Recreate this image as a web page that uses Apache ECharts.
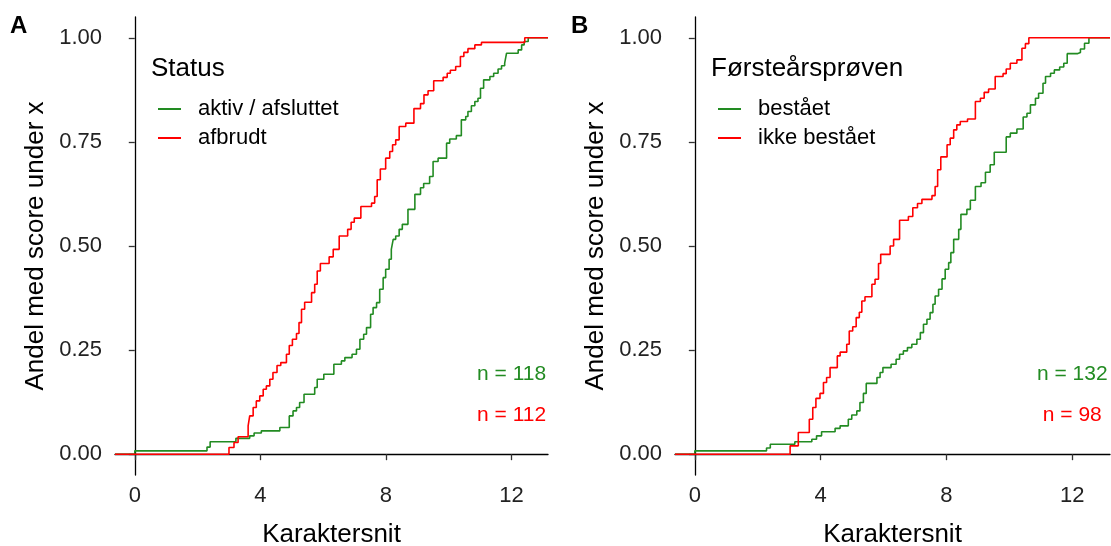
<!DOCTYPE html>
<html>
<head>
<meta charset="utf-8">
<script src="https://cdn.jsdelivr.net/npm/echarts@6/dist/echarts.min.js"></script>
<style>
  html, body { margin: 0; padding: 0; background: #fff; }
  #chart { width: 1111px; height: 546px; }
</style>
</head>
<body>
<div id="chart"></div>
<script>
// ---- panel A: Status (ECDF, step points) ----
var aktivX = [0, 2.30, 2.40, 3.22, 3.66, 3.80, 4.03, 4.62, 4.92, 5.04, 5.15, 5.25, 5.39, 5.73, 5.81, 6.02,
  6.34, 6.58, 6.69, 6.92, 7.06, 7.17, 7.29, 7.38, 7.51, 7.59, 7.70, 7.80, 7.91, 7.99, 8.10, 8.17,
  8.23, 8.31, 8.42, 8.52, 8.70, 8.92, 9.10, 9.20, 9.39, 9.50, 9.66, 9.93, 10.03, 10.24, 10.40, 10.54,
  10.61, 10.72, 10.83, 10.93, 11.01, 11.11, 11.31, 11.43, 11.57, 11.68, 11.78, 11.84, 12.21, 12.32, 12.40, 12.53];
var aktivY = [0.008, 0.017, 0.030, 0.038, 0.044, 0.051, 0.056, 0.064, 0.092, 0.104, 0.112, 0.124, 0.144, 0.160, 0.180, 0.192,
  0.216, 0.224, 0.232, 0.240, 0.252, 0.276, 0.288, 0.304, 0.336, 0.352, 0.364, 0.396, 0.424, 0.444, 0.468, 0.492,
  0.516, 0.524, 0.540, 0.552, 0.588, 0.624, 0.640, 0.650, 0.667, 0.703, 0.711, 0.747, 0.757, 0.765, 0.803, 0.811,
  0.823, 0.837, 0.847, 0.855, 0.879, 0.899, 0.907, 0.915, 0.925, 0.933, 0.939, 0.963, 0.971, 0.983, 0.991, 1.0];

var afbrudtX = [3.00, 3.16, 3.29, 3.61, 3.66, 3.77, 3.87, 3.98, 4.09, 4.19, 4.30, 4.40, 4.53, 4.65, 4.83, 4.92,
  5.02, 5.15, 5.23, 5.31, 5.41, 5.63, 5.73, 5.81, 5.91, 6.19, 6.32, 6.51, 6.78, 6.89, 6.99, 7.20,
  7.54, 7.64, 7.72, 7.82, 7.99, 8.12, 8.21, 8.31, 8.42, 8.63, 8.89, 9.10, 9.21, 9.34, 9.52, 9.82,
  9.95, 10.05, 10.22, 10.37, 10.48, 10.61, 10.83, 11.04, 12.42];
var afbrudtY = [0.016, 0.028, 0.042, 0.068, 0.092, 0.112, 0.128, 0.140, 0.156, 0.164, 0.180, 0.196, 0.213, 0.220, 0.240, 0.261,
  0.276, 0.290, 0.316, 0.348, 0.365, 0.388, 0.408, 0.440, 0.458, 0.474, 0.492, 0.524, 0.540, 0.557, 0.567, 0.595,
  0.603, 0.619, 0.659, 0.685, 0.711, 0.727, 0.743, 0.755, 0.787, 0.795, 0.830, 0.842, 0.863, 0.873, 0.897, 0.905,
  0.915, 0.922, 0.931, 0.955, 0.965, 0.974, 0.983, 0.989, 1.0];

// ---- panel B: Førsteårsprøven ----
var bestaaetX = [0, 2.28, 2.40, 3.18, 3.72, 3.87, 4.03, 4.46, 4.62, 4.88, 4.99, 5.15, 5.25, 5.36, 5.45, 5.79,
  5.89, 5.98, 6.24, 6.40, 6.51, 6.63, 6.76, 6.90, 7.06, 7.17, 7.27, 7.38, 7.48, 7.57, 7.64, 7.75, 7.86,
  7.96, 8.07, 8.14, 8.23, 8.39, 8.46, 8.65, 8.76, 8.92, 9.10, 9.24, 9.39, 9.52, 9.90, 10.03, 10.24,
  10.44, 10.56, 10.67, 10.83, 10.93, 11.07, 11.15, 11.31, 11.43, 11.60, 11.73, 11.84, 12.16, 12.26, 12.39, 12.53];
var bestaaetY = [0.008, 0.015, 0.024, 0.030, 0.036, 0.044, 0.054, 0.062, 0.068, 0.084, 0.094, 0.104, 0.124, 0.146, 0.170, 0.184,
  0.196, 0.208, 0.216, 0.228, 0.240, 0.248, 0.256, 0.264, 0.276, 0.292, 0.312, 0.324, 0.340, 0.360, 0.380, 0.396, 0.421,
  0.444, 0.460, 0.484, 0.516, 0.540, 0.576, 0.588, 0.610, 0.643, 0.652, 0.677, 0.695, 0.725, 0.762, 0.771, 0.781,
  0.810, 0.819, 0.839, 0.855, 0.867, 0.891, 0.907, 0.915, 0.923, 0.930, 0.939, 0.962, 0.965, 0.973, 0.987, 1.0];

var ikkeX = [3.03, 3.29, 3.64, 3.75, 3.85, 3.98, 4.09, 4.19, 4.30, 4.53, 4.62, 4.83, 4.91, 5.02, 5.13, 5.23,
  5.31, 5.41, 5.63, 5.73, 5.84, 5.91, 6.21, 6.32, 6.51, 6.79, 6.93, 7.08, 7.22, 7.54, 7.64, 7.72,
  7.82, 8.02, 8.12, 8.23, 8.33, 8.44, 8.67, 8.92, 9.08, 9.20, 9.34, 9.55, 9.80, 9.90, 10.03, 10.24,
  10.40, 10.51, 10.62];
var ikkeY = [0.020, 0.052, 0.084, 0.112, 0.134, 0.146, 0.172, 0.184, 0.208, 0.236, 0.245, 0.264, 0.296, 0.306, 0.328, 0.341,
  0.368, 0.378, 0.408, 0.420, 0.458, 0.480, 0.500, 0.516, 0.562, 0.571, 0.592, 0.602, 0.612, 0.621, 0.643, 0.683,
  0.714, 0.743, 0.759, 0.779, 0.791, 0.799, 0.805, 0.847, 0.855, 0.869, 0.877, 0.907, 0.914, 0.925, 0.939, 0.947,
  0.975, 0.986, 1.0];

var xTicks = [0, 4, 8, 12];
var yTicks = [0, 0.25, 0.5, 0.75, 1];
var nA = [118, 112];
var nB = [132, 98];
var nLabelX = 12;
var nLabelY = [0.2, 0.1];

var green = '#228B22';
var red = '#FF0000';
var font = '"Liberation Sans", Arial, sans-serif';

var xMinA = -0.63, xMaxA = 13.16, xMinB = -0.63, xMaxB = 13.2;

// ecdf padded like stat_ecdf: starts at 0 on the left edge, ends at 1 on the right edge
function ecdf(xs, ys, lo, hi) {
  var out = [[lo, 0]];
  for (var i = 0; i < xs.length; i++) out.push([xs[i], ys[i]]);
  out.push([hi, 1]);
  return out;
}

function xAxis(idx, lo, hi) {
  return {
    type: 'value', gridIndex: idx, min: lo, max: hi,
    name: 'Karaktersnit', nameLocation: 'middle', nameGap: 47,
    nameTextStyle: { fontSize: 26, color: '#000', fontFamily: font },
    axisLine: { lineStyle: { color: '#000', width: 1.3 } },
    axisTick: { show: true, length: 6, customValues: xTicks, lineStyle: { color: '#333', width: 1.3 } },
    axisLabel: { customValues: xTicks, fontSize: 22, color: '#222', margin: 10, fontFamily: font },
    splitLine: { show: false }
  };
}
function yAxis(idx) {
  return {
    type: 'value', gridIndex: idx, min: -0.05, max: 1.05,
    name: 'Andel med score under x', nameLocation: 'middle', nameGap: 66,
    nameTextStyle: { fontSize: 26, color: '#000', fontFamily: font },
    axisLine: { show: true, lineStyle: { color: '#000', width: 1.3 } },
    axisTick: { show: true, length: 6, customValues: yTicks, lineStyle: { color: '#333', width: 1.3 } },
    axisLabel: { customValues: yTicks, fontSize: 22, color: '#222', margin: 13, fontFamily: font,
      formatter: function (v) { return v.toFixed(2); } },
    splitLine: { show: false }
  };
}
function stepLine(name, color, idx, data) {
  return {
    name: name, type: 'line', step: 'end', xAxisIndex: idx, yAxisIndex: idx,
    symbol: 'none', data: data, color: color,
    lineStyle: { color: color, width: 1.6 }, animation: false
  };
}
function nLabel(idx, n, y, color) {
  return {
    type: 'scatter', xAxisIndex: idx, yAxisIndex: idx, symbolSize: 0,
    data: [[nLabelX, y]], silent: true, animation: false,
    itemStyle: { opacity: 1 },
    label: { show: true, position: 'inside', offset: [0, 3], formatter: 'n = ' + n, fontSize: 21, color: color,
      opacity: 1, fontFamily: font }
  };
}
function legend(left, names) {
  return {
    orient: 'vertical', left: left, top: 93, itemGap: 7,
    itemWidth: 23, itemHeight: 2, icon: 'rect',
    data: names, selectedMode: false,
    textStyle: { fontSize: 22, color: '#000', fontFamily: font, padding: [0, 0, 0, 12] }
  };
}

var myChart = echarts.init(document.getElementById('chart'), null, { renderer: 'canvas' });
var option = {
  backgroundColor: '#fff',
  animation: false,
  grid: [
    { left: 115, top: 17, width: 433, height: 458, outerBoundsMode: 'none' },
    { left: 675, top: 17, width: 435, height: 458, outerBoundsMode: 'none' }
  ],
  xAxis: [xAxis(0, xMinA, xMaxA), xAxis(1, xMinB, xMaxB)],
  yAxis: [yAxis(0), yAxis(1)],
  legend: [
    legend(153, ['aktiv / afsluttet', 'afbrudt']),
    legend(713, ['bestået', 'ikke bestået'])
  ],
  graphic: [
    { type: 'text', left: 10, top: 14, style: { text: 'A', font: 'bold 24px ' + font, fill: '#000' } },
    { type: 'text', left: 571, top: 14, style: { text: 'B', font: 'bold 24px ' + font, fill: '#000' } },
    { type: 'text', left: 151, top: 56, style: { text: 'Status', font: '26px ' + font, fill: '#000' } },
    { type: 'text', left: 711, top: 56, style: { text: 'Førsteårsprøven', font: '26px ' + font, fill: '#000' } }
  ],
  series: [
    stepLine('aktiv / afsluttet', green, 0, ecdf(aktivX, aktivY, xMinA, xMaxA)),
    stepLine('afbrudt', red, 0, ecdf(afbrudtX, afbrudtY, xMinA, xMaxA)),
    stepLine('bestået', green, 1, ecdf(bestaaetX, bestaaetY, xMinB, xMaxB)),
    stepLine('ikke bestået', red, 1, ecdf(ikkeX, ikkeY, xMinB, xMaxB)),
    nLabel(0, nA[0], nLabelY[0], green),
    nLabel(0, nA[1], nLabelY[1], red),
    nLabel(1, nB[0], nLabelY[0], green),
    nLabel(1, nB[1], nLabelY[1], red)
  ]
};
myChart.setOption(option);
</script>
</body>
</html>
